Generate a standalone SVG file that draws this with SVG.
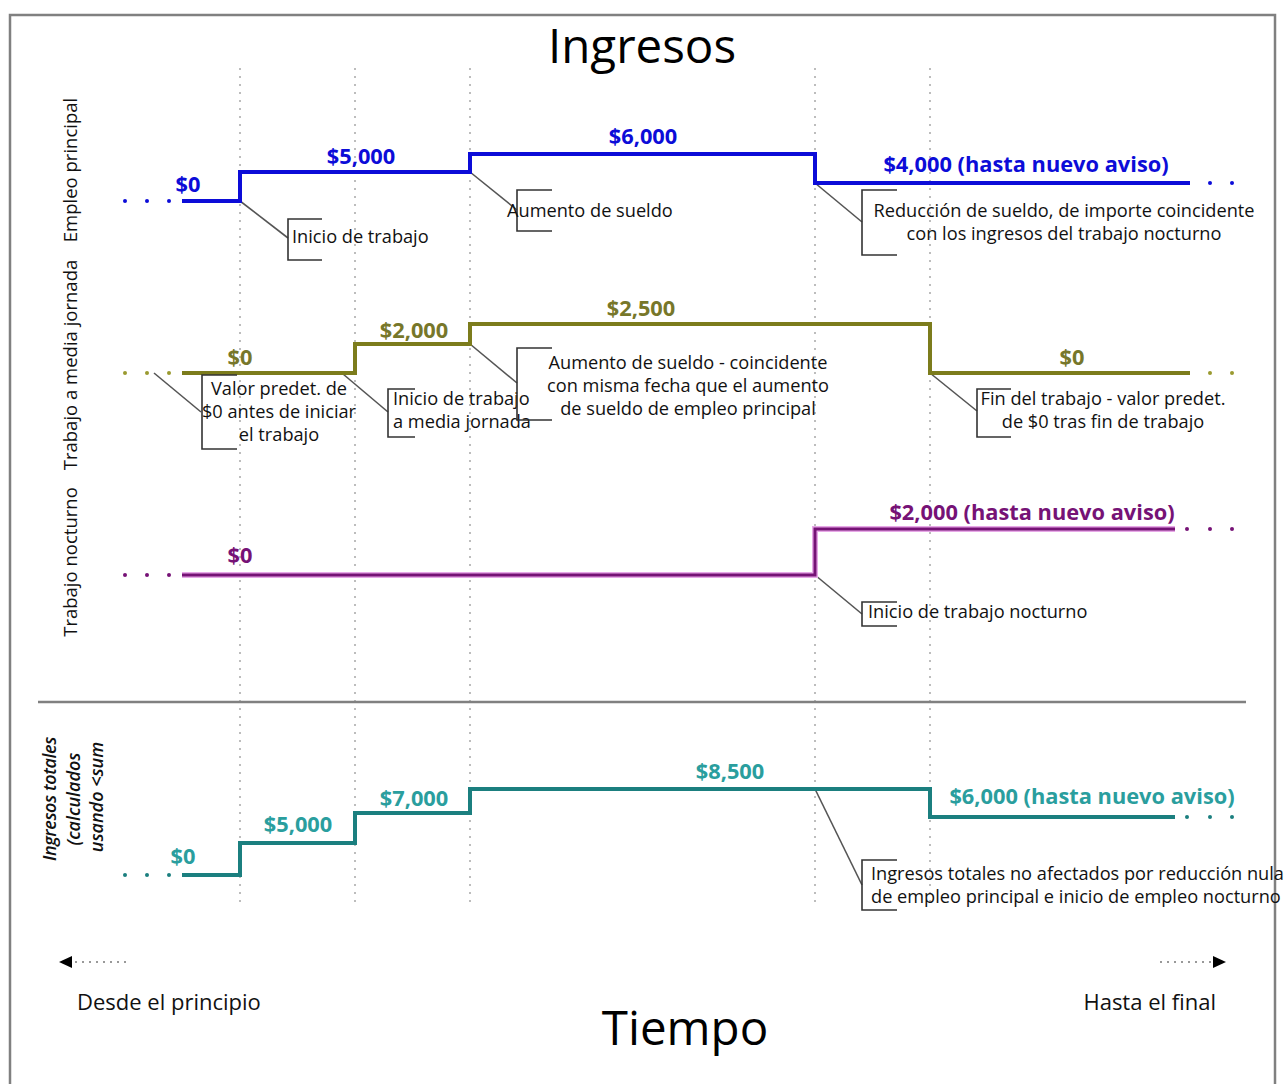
<svg xmlns="http://www.w3.org/2000/svg" width="1284" height="1084" viewBox="0 0 1284 1084">
<defs>
<style>
.grid{stroke:#bdbdbd;stroke-width:2;stroke-dasharray:2,6;fill:none}
.frame{fill:none;stroke:#808080;stroke-width:2.5}
.call{fill:none;stroke:#555;stroke-width:1.6}
.brk{fill:none;stroke:#333;stroke-width:1.6}
.t{font-family:"Open Sans","Noto Sans",sans-serif;font-size:18.2px;fill:#111}
.big{font-family:"Open Sans","Noto Sans",sans-serif;font-size:47.5px;fill:#000}
.row{font-family:"Open Sans","Noto Sans",sans-serif;font-size:18.5px;fill:#111}
.ax{font-family:"Open Sans","Noto Sans",sans-serif;font-size:22px;fill:#111}
.tot{font-family:"Open Sans","Noto Sans",sans-serif;font-size:18px;font-style:italic;font-weight:600;fill:#111}
.val{font-family:"Open Sans","Noto Sans",sans-serif;font-size:21.8px;font-weight:bold}
.blue{stroke:#0c0cd8;stroke-width:4;fill:none}
.olive{stroke:#7c7c1c;stroke-width:4;fill:none}
.purpH{stroke:#e7a8e7;stroke-width:6;fill:none}
.purp{stroke:#761276;stroke-width:3;fill:none}
.teal{stroke:#1b7f7f;stroke-width:4;fill:none}
</style>
<marker id="ah" markerWidth="14" markerHeight="12" refX="0" refY="6" orient="auto" markerUnits="userSpaceOnUse">
<path d="M0,0 L13,6 L0,12 Z" fill="#000"/>
</marker>
</defs>
<rect width="1284" height="1084" fill="#fff"/>
<rect class="frame" x="10" y="15" width="1265" height="1090"/>
<g id="title"><text class="big" x="642" y="63" text-anchor="middle">Ingresos</text></g>
<g id="gridlines">
<line class="grid" x1="240" y1="68" x2="240" y2="903"/>
<line class="grid" x1="355" y1="68" x2="355" y2="903"/>
<line class="grid" x1="470" y1="68" x2="470" y2="903"/>
<line class="grid" x1="815" y1="68" x2="815" y2="903"/>
<line class="grid" x1="930" y1="68" x2="930" y2="903"/>
</g>
<line x1="38" y1="702" x2="1246" y2="702" stroke="#808080" stroke-width="2.5"/>
<g id="row-labels">
<text class="row" transform="translate(77,170) rotate(-90)" text-anchor="middle">Empleo principal</text>
<text class="row" transform="translate(77,365) rotate(-90)" text-anchor="middle">Trabajo a media jornada</text>
<text class="row" transform="translate(77,562) rotate(-90)" text-anchor="middle">Trabajo nocturno</text>
<text class="tot" transform="translate(56,799) rotate(-90)" text-anchor="middle" letter-spacing="-0.4">Ingresos totales</text>
<text class="tot" transform="translate(80,799) rotate(-90)" text-anchor="middle">(calculados</text>
<text class="tot" transform="translate(103,797) rotate(-90)" text-anchor="middle">usando &lt;sum</text>
</g>
<g id="connectors">
<path class="call" d="M240,201 L288,238"/>
<path class="call" d="M470,172 L517,210"/>
<path class="call" d="M815,183 L862,222"/>
<path class="call" d="M154,373 L201,412"/>
<path class="call" d="M343,374 L388,412"/>
<path class="call" d="M470,344 L517,383"/>
<path class="call" d="M930,373 L977,411"/>
<path class="call" d="M815,575 L862,614"/>
<path class="call" d="M815,789 L862,885"/>
</g>
<g id="empleo-principal">
<g fill="#0c0cd8"><circle cx="125" cy="201" r="2"/><circle cx="147" cy="201" r="2"/><circle cx="169" cy="201" r="2"/><circle cx="1210" cy="183" r="2"/><circle cx="1232" cy="183" r="2"/></g>
<path class="blue" d="M182,201 H240 V172 H470 V154 H815 V183 H1190"/>
<g class="val" fill="#0c0cd8" text-anchor="middle">
<text x="188" y="192">$0</text>
<text x="361" y="164">$5,000</text>
<text x="643" y="144">$6,000</text>
<text x="1026" y="172">$4,000 (hasta nuevo aviso)</text>
</g>
</g>
<g id="callout-inicio-trabajo">
<path class="brk" d="M322,219 H288 V260 H322"/>
<text class="t" x="292" y="243">Inicio de trabajo</text>
</g>
<g id="callout-aumento-sueldo">
<path class="brk" d="M552,190 H517 V231 H552"/>
<text class="t" x="507" y="217">Aumento de sueldo</text>
</g>
<g id="callout-reduccion">
<path class="brk" d="M897,190 H862 V255 H897" stroke="#666"/>
<text class="t" x="1064" y="217" text-anchor="middle">Reducción de sueldo, de importe coincidente</text>
<text class="t" x="1064" y="240" text-anchor="middle">con los ingresos del trabajo nocturno</text>
</g>
<g id="media-jornada">
<g fill="#9a9a30"><circle cx="125" cy="373" r="2"/><circle cx="147" cy="373" r="2"/><circle cx="169" cy="373" r="2"/><circle cx="1210" cy="373" r="2"/><circle cx="1232" cy="373" r="2"/></g>
<path class="olive" d="M182,373 H355 V344 H470 V324 H930 V373 H1190"/>
<g class="val" fill="#77772a" text-anchor="middle">
<text x="240" y="365">$0</text>
<text x="414" y="338">$2,000</text>
<text x="641" y="316">$2,500</text>
<text x="1072" y="365">$0</text>
</g>
</g>
<g id="callout-valor-predet">
<path class="brk" d="M237,375 H202 V449 H237"/>
<text class="t" x="279" y="395" text-anchor="middle">Valor predet. de</text>
<text class="t" x="279" y="418" text-anchor="middle">$0 antes de iniciar</text>
<text class="t" x="279" y="441" text-anchor="middle">el trabajo</text>
</g>
<g id="callout-inicio-media">
<path class="brk" d="M415,389 H388 V437 H415"/>
<text class="t" x="393" y="405">Inicio de trabajo</text>
<text class="t" x="393" y="428">a media jornada</text>
</g>
<g id="callout-aumento-coincidente">
<path class="brk" d="M552,348 H517 V420 H552"/>
<text class="t" x="688" y="369" text-anchor="middle">Aumento de sueldo - coincidente</text>
<text class="t" x="688" y="392" text-anchor="middle">con misma fecha que el aumento</text>
<text class="t" x="688" y="415" text-anchor="middle">de sueldo de empleo principal</text>
</g>
<g id="callout-fin-trabajo">
<path class="brk" d="M1011,389 H977 V437 H1011" stroke="#555"/>
<text class="t" x="1103" y="405" text-anchor="middle">Fin del trabajo - valor predet.</text>
<text class="t" x="1103" y="428" text-anchor="middle">de $0 tras fin de trabajo</text>
</g>
<g id="nocturno">
<g fill="#761276"><circle cx="125" cy="575" r="2"/><circle cx="147" cy="575" r="2"/><circle cx="169" cy="575" r="2"/><circle cx="1187" cy="529" r="2"/><circle cx="1210" cy="529" r="2"/><circle cx="1232" cy="529" r="2"/></g>
<path class="purpH" d="M182,575 H815 V529 H1175"/>
<path class="purp" d="M182,575 H815 V529 H1175"/>
<g class="val" fill="#761276" text-anchor="middle">
<text x="1032" y="520">$2,000 (hasta nuevo aviso)</text>
<text x="240" y="563">$0</text>
</g>
</g>
<g id="callout-inicio-nocturno">
<path class="brk" d="M897,602 H862 V626 H897" stroke="#555"/>
<text class="t" x="868" y="618">Inicio de trabajo nocturno</text>
</g>
<g id="ingresos-totales">
<g fill="#1b7f7f"><circle cx="125" cy="875" r="2"/><circle cx="147" cy="875" r="2"/><circle cx="169" cy="875" r="2"/><circle cx="1187" cy="817" r="2"/><circle cx="1210" cy="817" r="2"/><circle cx="1232" cy="817" r="2"/></g>
<path class="teal" d="M182,875 H240 V843 H355 V813 H470 V789 H930 V817 H1175"/>
<g class="val" fill="#2a9e9e" text-anchor="middle">
<text x="183" y="864">$0</text>
<text x="298" y="832">$5,000</text>
<text x="414" y="806">$7,000</text>
<text x="730" y="779">$8,500</text>
<text x="1092" y="804">$6,000 (hasta nuevo aviso)</text>
</g>
</g>
<g id="callout-ingresos-totales">
<path class="brk" d="M897,860 H862 V910 H897" stroke="#666"/>
<text class="t" x="871" y="880">Ingresos totales no afectados por reducción nula</text>
<text class="t" x="871" y="903">de empleo principal e inicio de empleo nocturno</text>
</g>
<g id="axis">
<line x1="126" y1="962" x2="72" y2="962" stroke="#999" stroke-width="2" stroke-dasharray="2,5" marker-end="url(#ah)"/>
<line x1="1160" y1="962" x2="1213" y2="962" stroke="#999" stroke-width="2" stroke-dasharray="2,5" marker-end="url(#ah)"/>
<text class="ax" x="77" y="1010">Desde el principio</text>
<text class="ax" x="1216" y="1010" text-anchor="end">Hasta el final</text>
<text class="big" x="685" y="1045" text-anchor="middle">Tiempo</text>
</g>
</svg>
